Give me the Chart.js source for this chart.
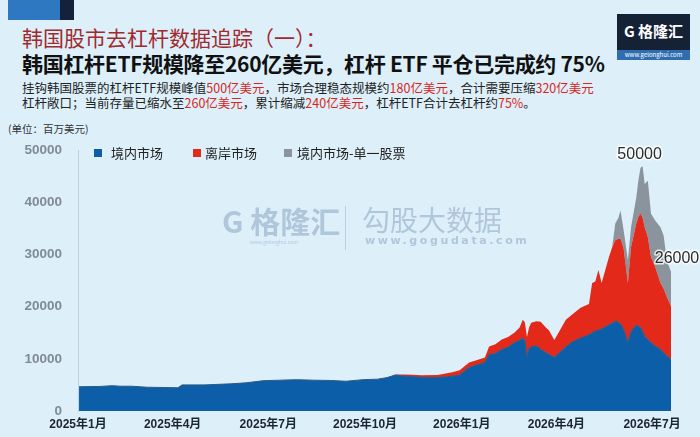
<!DOCTYPE html>
<html><head><meta charset="utf-8">
<script src="https://cdn.jsdelivr.net/npm/chart.js@4.4.1/dist/chart.umd.min.js"></script>
<style>
html,body{margin:0;padding:0;}
body{width:700px;height:437px;position:relative;overflow:hidden;background:#ddf0fa;font-family:'Noto Sans CJK SC','Noto Sans',sans-serif;}
.abs{position:absolute;white-space:nowrap;}
.red{color:#d9261c;}
#t1{left:22px;top:24px;font-size:21px;line-height:26px;color:#a12a2e;}
#t2{left:22px;top:50px;font-size:21px;line-height:26px;color:#111;font-weight:bold;letter-spacing:-0.3px;}
#sub{left:22px;top:80px;font-size:12.5px;line-height:15px;color:#222;}
#unit{left:8px;top:122px;font-size:10.5px;line-height:14px;color:#333;}
#blk1{left:8px;top:0;width:52px;height:20px;background:#2e78c2;}
#blk2{left:60px;top:0;width:14px;height:20px;background:#15203a;}
#logo{left:617px;top:14px;width:73px;height:46px;background:#152236;}
#logo .nm{position:absolute;left:0;top:6px;width:73px;text-align:center;color:#fff;font-size:15px;font-weight:bold;line-height:22px;}
#logo .url{position:absolute;left:0;top:36px;width:73px;height:10px;background:#2f6db0;color:#fff;font-size:6px;line-height:10px;text-align:center;}
.wm{color:rgba(160,186,208,0.75);}
#wm1{left:222px;top:200px;font-size:30px;line-height:40px;font-weight:bold;}
#wm1s{left:250px;top:238px;font-size:5px;line-height:8px;}
#wmline{left:345px;top:206px;width:1px;height:44px;background:rgba(160,186,208,0.6);}
#wm2{left:362px;top:201px;font-size:28px;line-height:36px;}
#wm2s{left:365px;top:234px;font-size:11px;line-height:14px;letter-spacing:2.6px;font-family:'DejaVu Sans',sans-serif;font-weight:bold;}
#c{position:absolute;left:0;top:120px;}
.lg{position:absolute;top:145px;font-size:13px;line-height:16px;color:#222;}
.lgbox{position:absolute;top:149px;width:8px;height:8px;}
</style></head>
<body>
<div id="blk1" class="abs"></div><div id="blk2" class="abs"></div>
<div id="t1" class="abs">韩国股市去杠杆数据追踪（一）：</div>
<div id="t2" class="abs">韩国杠杆ETF规模降至260亿美元，杠杆 ETF 平仓已完成约 75%</div>
<div id="sub" class="abs">挂钩韩国股票的杠杆ETF规模峰值<span class="red">500亿美元</span>，市场合理稳态规模约<span class="red">180亿美元</span>，合计需要压缩<span class="red">320亿美元</span><br>杠杆敞口；当前存量已缩水至<span class="red">260亿美元</span>，累计缩减<span class="red">240亿美元</span>，杠杆ETF合计去杠杆约<span class="red">75%</span>。</div>
<div id="unit" class="abs">(单位：百万美元)</div>
<div id="logo" class="abs"><div class="nm">G 格隆汇</div><div class="url">www.gelonghui.com</div></div>
<canvas id="c" width="700" height="317"></canvas>
<div id="wm1" class="abs wm">G 格隆汇</div>
<div id="wm1s" class="abs wm">www.gelonghui.com</div>
<div id="wmline" class="abs"></div>
<div id="wm2" class="abs wm">勾股大数据</div>
<div id="wm2s" class="abs wm">www.gogudata.com</div>
<div id="legend"></div>
<script>
// ---- data ----
const dates = [
 '2025-01-02','2025-01-21','2025-02-03','2025-02-10','2025-02-21','2025-03-08','2025-03-24','2025-04-06','2025-04-10','2025-05-01',
 '2025-05-26','2025-06-10','2025-06-26','2025-07-12','2025-07-28','2025-08-13','2025-08-29','2025-09-13','2025-09-29','2025-10-13',
 '2025-10-22','2025-10-30','2025-11-06','2025-11-15','2025-11-24','2025-12-09','2025-12-23','2025-12-30',
 '2026-01-08','2026-01-15','2026-01-23','2026-01-27',
 '2026-02-02','2026-02-08','2026-02-14','2026-02-20','2026-02-25','2026-02-28',
 '2026-03-02','2026-03-04','2026-03-06','2026-03-08','2026-03-13','2026-03-17','2026-03-22','2026-03-25','2026-03-30',
 '2026-04-03','2026-04-10','2026-04-16','2026-04-24',
 '2026-05-02','2026-05-05','2026-05-08','2026-05-11','2026-05-14','2026-05-21','2026-05-24','2026-05-27','2026-05-30',
 '2026-06-01','2026-06-04','2026-06-08','2026-06-11','2026-06-16','2026-06-18','2026-06-20','2026-06-22','2026-06-24','2026-06-27','2026-06-30',
 '2026-07-04','2026-07-09','2026-07-12','2026-07-15','2026-07-19'
];
const domestic = [
 4650,4700,4850,4750,4750,4550,4500,4450,5000,5000,5200,5400,5800,5900,6000,5900,5850,5700,6000,6100,6400,6900,6700,6600,6450,6400,6650,6900,
 8350,8800,9300,10800,
 11000,11800,12200,13100,13500,14000,
 13500,10400,12000,12300,12500,11800,11200,10800,10300,
 11000,12300,13200,14000,
 14600,15000,15300,15500,15700,16500,16800,17200,17000,
 16700,15600,13100,15200,16500,16200,16000,15200,14300,13700,13100,
 12400,11800,11200,10500,9900
];
const offshore = [
 0,0,0,0,0,0,0,0,0,0,0,0,0,0,0,0,0,0,0,0,0,100,300,350,400,500,750,900,
 950,900,950,1550,
 1800,1900,2000,1900,2500,3500,
 3500,3800,4000,4600,4700,5300,4800,4600,3300,
 4000,5200,5300,5800,
 5900,9500,9500,11500,8800,13000,14500,15500,16000,
 16300,15500,11400,16200,19400,21000,21800,21800,20900,19600,16400,
 15200,12700,12200,11400,10100
];
const singleStock = [
 0,0,0,0,0,0,0,0,0,0,0,0,0,0,0,0,0,0,0,0,0,0,0,0,0,0,0,0,
 0,0,0,0,
 0,0,0,0,0,0,
 0,0,0,0,0,0,0,0,0,
 0,0,0,0,
 0,0,0,0,0,0,0,3200,4000,
 5400,3500,4400,3800,5000,7000,8800,9900,8300,10800,8300,
 8900,10700,10200,7000,6700
];
const seriesNames = ['境内市场','离岸市场','境内市场-单一股票'];
const seriesColors = ['#0b5ea7','#e2291a','#8b949c'];
const tickDates = ['2025-01-01','2025-04-01','2025-07-01','2025-10-01','2026-01-01','2026-04-01','2026-07-01'];
const tickLabels = ['2025年1月','2025年4月','2025年7月','2025年10月','2026年1月','2026年4月','2026年7月'];
const yTickStep = 10000, yMax = 50000;
const peakLabel = '50000', endLabel = '26000';

// ---- helpers ----
const base = Date.parse('2025-01-01T00:00:00Z');
const dayOf = s => Math.round((Date.parse(s + 'T00:00:00Z') - base) / 86400000);
const days = dates.map(dayOf);
const tickDays = tickDates.map(dayOf);
const mk = arr => arr.map((v, i) => ({x: days[i], y: v}));

// legend (HTML, from the series arrays)
const lgBoxX = [94, 193, 284], lgTextX = [111, 205, 297];
const lg = document.getElementById('legend');
seriesNames.forEach((n, i) => {
  const b = document.createElement('div'); b.className = 'lgbox';
  b.style.left = lgBoxX[i] + 'px'; b.style.background = seriesColors[i]; lg.appendChild(b);
  const t = document.createElement('div'); t.className = 'lg';
  t.style.left = lgTextX[i] + 'px'; t.textContent = n; lg.appendChild(t);
});

const annot = {
  id: 'annot',
  afterDatasetsDraw(chart) {
    const ctx = chart.ctx;
    const meta = chart.getDatasetMeta(2);
    const totals = domestic.map((v, i) => v + offshore[i] + singleStock[i]);
    const pk = totals.indexOf(Math.max(...totals));
    const last = totals.length - 1;
    ctx.save();
    ctx.font = '16px "Liberation Sans", Arial, sans-serif';
    ctx.textAlign = 'center'; ctx.textBaseline = 'middle';
    ctx.lineJoin = 'round';
    const draw = (txt, x, y) => {
      ctx.lineWidth = 3; ctx.strokeStyle = 'rgba(255,255,255,0.8)'; ctx.strokeText(txt, x, y);
      ctx.fillStyle = '#2b2b2b'; ctx.fillText(txt, x, y);
    };
    draw(peakLabel, meta.data[pk].x - 3, meta.data[pk].y - 12);
    draw(endLabel, meta.data[last].x + 6, meta.data[last].y - 13);
    ctx.restore();
  }
};

new Chart(document.getElementById('c'), {
  type: 'line',
  data: {
    datasets: [
      {label: seriesNames[0], data: mk(domestic), backgroundColor: seriesColors[0], borderColor: '#2d5a83', borderWidth: 1, fill: 'origin', pointRadius: 0, tension: 0},
      {label: seriesNames[1], data: mk(offshore), backgroundColor: seriesColors[1], borderColor: seriesColors[1], borderWidth: 0, fill: '-1', pointRadius: 0, tension: 0},
      {label: seriesNames[2], data: mk(singleStock), backgroundColor: seriesColors[2], borderColor: seriesColors[2], borderWidth: 0, fill: '-1', pointRadius: 0, tension: 0}
    ]
  },
  options: {
    responsive: false,
    animation: false,
    layout: {padding: {left: 0, right: 29, top: 30, bottom: 0}},
    plugins: {legend: {display: false}, tooltip: {enabled: false}},
    scales: {
      x: {
        type: 'linear', min: 0, max: days[days.length - 1],
        grid: {display: false, drawTicks: false},
        border: {display: false},
        afterBuildTicks: s => { s.ticks = tickDays.map(v => ({value: v})); },
        afterFit: s => { s.height = 26; },
        ticks: {
          autoSkip: false, maxRotation: 0, padding: 6, color: '#1b2533',
          font: {family: '"Liberation Sans", "Noto Sans CJK SC", sans-serif', size: 12, weight: 'bold'},
          callback: v => { const i = tickDays.indexOf(v); return i >= 0 ? tickLabels[i] : ''; }
        }
      },
      y: {
        stacked: true, min: 0, max: yMax,
        grid: {display: false, drawTicks: false},
        border: {display: true, color: '#bcd4e2'},
        afterFit: s => { s.width = 78; },
        ticks: {
          stepSize: yTickStep, padding: 16, color: '#7f8a94',
          font: {family: '"Liberation Sans", Arial, sans-serif', size: 13.5, weight: 'bold'},
          callback: v => String(v)
        }
      }
    }
  },
  plugins: [annot]
});
</script>
</body></html>
